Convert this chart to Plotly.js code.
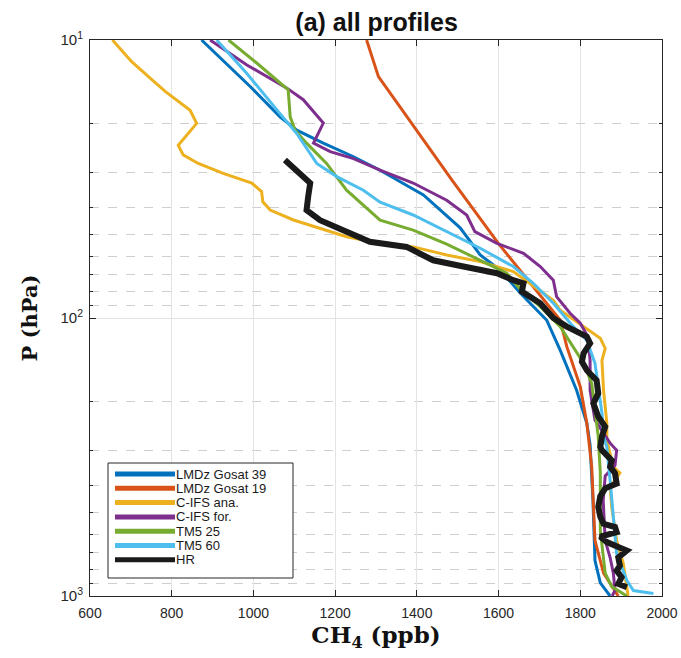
<!DOCTYPE html>
<html><head><meta charset="utf-8">
<script src="https://cdn.plot.ly/plotly-3.0.1.min.js"></script>
<style>html,body{margin:0;padding:0;background:#fff}#chart{width:681px;height:658px}</style>
</head><body><div id="chart"></div>
<script>
const seriesNames = ["LMDz Gosat 39","LMDz Gosat 19","C-IFS ana.","C-IFS for.","TM5 25","TM5 60","HR"];
const seriesColors = ["#0072BD","#D95319","#EDB120","#7E2F8E","#77AC30","#4DBEEE","#1a1a1a"];

const lmdz39_ch4 = [873,992,1065,1106,1171,1245,1310,1416,1506,1555,1604,1653,1718,1751,1791,1816,1824,1831,1836,1849,1873];
const lmdz39_p   = [10,14.7,18.9,21.1,23.5,26.3,29.4,36.1,47.4,59.3,67.3,81.3,101.9,130.7,182,239,286,453,746,897,1000];

const lmdz19_ch4 = [1277,1306,1486,1599,1751,1767,1800,1816,1828,1832,1836,1857,1893];
const lmdz19_p   = [10,13.55,31.9,53.8,101.9,126.8,176.6,239,343,502,632,828,1000];

const cifsAna_ch4 = [655,702,743,784,845,861,816,828,865,926,996,1020,1023,1041,1098,1163,1228,1310,1391,1473,1555,1636,1734,1751,1808,1849,1861,1853,1857,1865,1865,1881,1897,1873,1877,1889,1905,1914,1917];
const cifsAna_p   = [10,11.97,13.55,15.3,17.9,19.95,23.9,25.9,27.8,30.2,32.7,35.1,38.2,40.9,44.4,47.5,51,53.9,55.5,59.3,62.7,68.1,86.3,93.8,107.4,118.3,128.5,142,182,239,276,343,361,405,480,632,761,926,1000];

const cifsFor_ch4 = [894,984,1082,1122,1171,1147,1188,1245,1310,1391,1473,1522,1542,1596,1661,1702,1734,1742,1775,1800,1819,1824,1824,1836,1873,1889,1885,1861,1856,1861,1873,1881,1885,1878];
const cifsFor_p   = [10,12.3,14.9,16.4,19.9,23.5,25.2,26.7,29.4,32.7,37.7,42.6,48.9,53.9,58.5,65.3,73.1,83.8,96.1,104.4,117,142,182,233,282,299,339,370,453,632,727,830,956,1000];

const tm525_ch4 = [939,1008,1085,1090,1102,1130,1179,1228,1310,1391,1473,1555,1620,1653,1702,1751,1783,1808,1828,1836,1844,1849,1849,1861,1877,1914];
const tm525_p   = [10,12.1,15.1,18.9,21.1,23.5,27.8,34.7,44.5,48.3,54.2,62,69,78.7,91,107.4,126.8,145.5,171.8,215,267,361,581,828,925,1000];

const tm560_ch4 = [910,984,1065,1106,1155,1204,1269,1310,1391,1473,1555,1636,1685,1734,1783,1816,1836,1844,1853,1857,1865,1873,1881,1889,1914,1930,1979];
const tm560_p   = [10,13.2,18.4,21.7,27.8,31,34.7,38.3,42.6,48.9,56.1,65.3,75,88.5,107.4,120.3,145.5,176.6,220,267,291,384,504,704,880,956,980];

const hr_ch4 = [1077,1106,1139,1134,1130,1163,1228,1285,1375,1440,1514,1596,1636,1661,1657,1702,1734,1767,1816,1824,1808,1804,1816,1840,1844,1832,1844,1861,1853,1849,1853,1877,1873,1885,1889,1861,1849,1844,1849,1857,1885,1889,1849,1865,1893,1914,1893,1897,1889,1901,1893,1914];
const hr_p   = [27,29.4,32.7,36.6,40.9,44.5,48.9,53.2,55.5,62,65.3,69,73.1,75,80.4,88.5,100,107.4,116.7,123.3,134,143.6,154.2,167.6,186.8,202.8,226.5,246,267,291,299,325,343,362,394,410,437,478,519,550,565,589,612,640,666,686,727,777,810,856,904,930];

const xTicks = [600,800,1000,1200,1400,1600,1800,2000];
const yTicks = [10,100,1000];
const yTickText = ["10<sup>1</sup>","10<sup>2</sup>","10<sup>3</sup>"];
const yMinor = [20,30,40,50,60,70,80,90,200,300,400,500,600,700,800,900];

const allX = [lmdz39_ch4,lmdz19_ch4,cifsAna_ch4,cifsFor_ch4,tm525_ch4,tm560_ch4,hr_ch4];
const allP = [lmdz39_p,lmdz19_p,cifsAna_p,cifsFor_p,tm525_p,tm560_p,hr_p];

const traces = allX.map((xs,i)=>({
  type:'scatter', mode:'lines', x:xs, y:allP[i], name:seriesNames[i],
  line:{color:seriesColors[i], width: i===6 ? 6 : 3, shape:'linear'},
  showlegend:false, hoverinfo:'skip'
}));

// manual legend (paper coords)
const L = {l:90, t:40, w:572, h:556};
function px2x(px){return (px-L.l)/L.w;}
function py2y(py){return (L.t+L.h-py)/L.h;}
const shapes = [];
const annotations = [];
shapes.push({type:'rect', xref:'paper', yref:'paper', x0:px2x(108), x1:px2x(293), y0:py2y(578), y1:py2y(463),
  line:{color:'#262626', width:1}, fillcolor:'#ffffff', layer:'above'});
const rowY = [474,488.3,502.6,516.9,531.2,545.5,559.8];
seriesNames.forEach((n,i)=>{
  shapes.push({type:'line', xref:'paper', yref:'paper', x0:px2x(115), x1:px2x(175), y0:py2y(rowY[i]), y1:py2y(rowY[i]),
    line:{color:seriesColors[i], width:5}, layer:'above'});
  annotations.push({xref:'paper', yref:'paper', x:px2x(175), y:py2y(rowY[i]), xanchor:'left', yanchor:'middle',
    text:n, showarrow:false, borderpad:0, font:{family:'Liberation Sans, Arial', size:13, color:'#1a1a1a'}});
});

const layout = {
  width:681, height:658,
  margin:{l:L.l, r:681-L.l-L.w, t:L.t, b:658-L.t-L.h},
  paper_bgcolor:'#fff', plot_bgcolor:'#fff',
  title:{text:'<b>(a) all profiles</b>', x:0.553, xanchor:'center', y:0.966, yanchor:'middle',
    font:{family:'Liberation Sans, Arial', size:25, color:'#111'}},
  xaxis:{range:[600,2000], tickvals:xTicks, ticks:'inside', ticklen:6, tickcolor:'#262626',
    showline:true, linecolor:'#262626', linewidth:1, mirror:'allticks',
    showgrid:true, gridcolor:'#e3e3e3', gridwidth:1, zeroline:false, ticklabelstandoff:4,
    tickfont:{family:'Liberation Sans, Arial', size:14, color:'#262626'},
    title:{text:'<b>CH<sub>4</sub> (ppb)</b>', standoff:5, font:{family:'DejaVu Serif, Liberation Serif, serif', size:23, color:'#111'}}},
  yaxis:{type:'log', range:[3,1], tickvals:yTicks, ticktext:yTickText, ticks:'inside', ticklen:6, tickcolor:'#262626',
    showline:true, linecolor:'#262626', linewidth:1, mirror:'allticks',
    showgrid:true, gridcolor:'#e3e3e3', gridwidth:1, zeroline:false, ticklabelstandoff:3,
    tickfont:{family:'Liberation Sans, Arial', size:15, color:'#262626'},
    minor:{tickvals:yMinor, ticks:'inside', ticklen:3, tickcolor:'#262626', showgrid:true, gridcolor:'#cfcfcf', griddash:'dash', gridwidth:1},
    title:{text:'<b>P (hPa)</b>', standoff:17, font:{family:'DejaVu Serif, Liberation Serif, serif', size:21, color:'#111'}}},
  shapes:shapes, annotations:annotations, showlegend:false
};
Plotly.newPlot('chart', traces, layout, {staticPlot:true, displayModeBar:false});
</script></body></html>
